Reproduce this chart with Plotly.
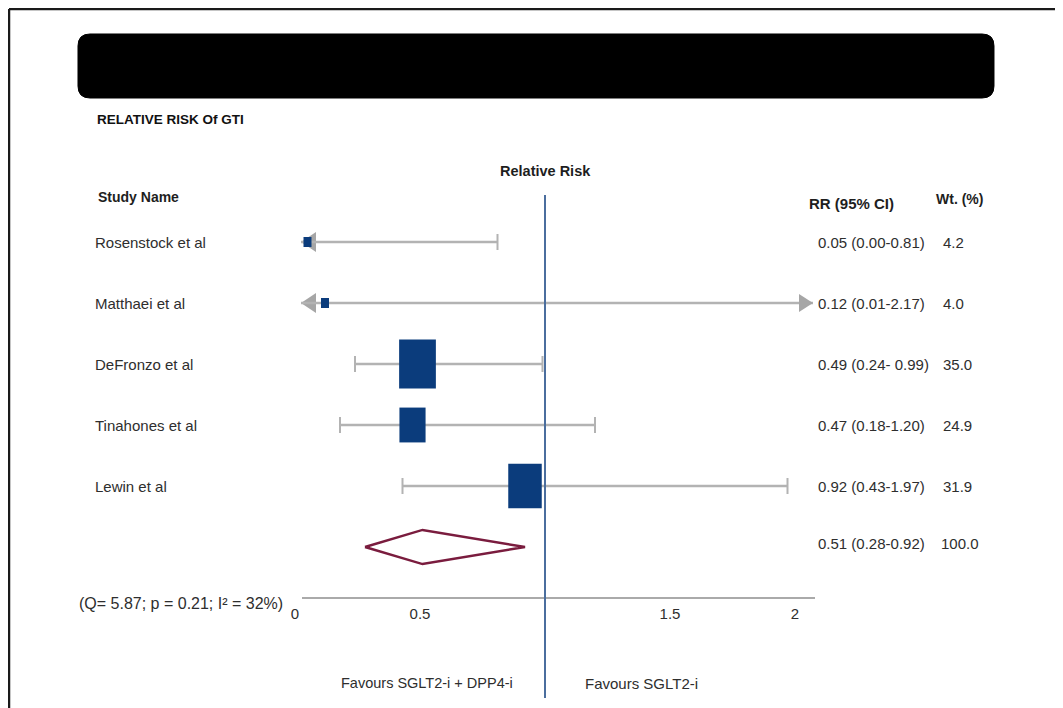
import plotly.graph_objects as go

# ---------------- data ----------------
studies = ["Rosenstock et al", "Matthaei et al", "DeFronzo et al", "Tinahones et al", "Lewin et al"]
rr = [0.05, 0.12, 0.49, 0.47, 0.92]
ci_low = [0.00, 0.01, 0.24, 0.18, 0.43]
ci_high = [0.81, 2.17, 0.99, 1.20, 1.97]
weights = [4.2, 4.0, 35.0, 24.9, 31.9]
rr_labels = ["0.05 (0.00-0.81)", "0.12 (0.01-2.17)", "0.49 (0.24- 0.99)", "0.47 (0.18-1.20)", "0.92 (0.43-1.97)"]
wt_labels = ["4.2", "4.0", "35.0", "24.9", "31.9"]
pooled_rr = 0.51
pooled_low = 0.28
pooled_high = 0.92
pooled_label = "0.51 (0.28-0.92)"
pooled_wt = "100.0"
tick_vals = [0, 0.5, 1.5, 2]
tick_text = ["0", "0.5", "1.5", "2"]
heterogeneity = "(Q= 5.87; p = 0.21; I² = 32%)"

# ---------------- layout constants ----------------
W, H = 1063, 708
OFF = 8                          # page body margin offset
X0PX, XSCALE = 295.0, 250.0      # screen pixel of value 0, pixels per unit
Y0PX, YSTEP = 242.0, 61.0        # screen pixel of first row, pixels per row
x_range = [(0 - (X0PX - OFF)) / XSCALE, (W - (X0PX - OFF)) / XSCALE]
y_range = [(H - (Y0PX - OFF)) / YSTEP, (0 - (Y0PX - OFF)) / YSTEP]
clip_lo, clip_hi = 0.024, 2.072   # visible CI window (arrows beyond)
axis_lo, axis_hi = 0.028, 2.08

FONT = "Liberation Sans, Arial, sans-serif"
TXT = "#2e2e2e"
NAVY = "#0b3c7c"
GRAY = "#b3b3b3"
BLUE = "#4b6e9e"
MAROON = "#7a1c3e"


def row_of(px):
    return (px - Y0PX) / YSTEP


def vx(px):
    return (px - X0PX) / XSCALE


def pxp(x):
    return (x - OFF) / W


def pyp(y):
    return 1 - (y - OFF) / H


fig = go.Figure()
shapes = []
annotations = []

rows = list(range(len(studies)))
pooled_row = len(studies)

# CI lines
for i in rows:
    lo = max(ci_low[i], clip_lo)
    hi = min(ci_high[i], clip_hi)
    fig.add_trace(go.Scatter(x=[lo, hi], y=[i, i], mode="lines",
                             line=dict(color=GRAY, width=2.5), hoverinfo="skip", showlegend=False))
    if ci_low[i] < clip_lo:
        shapes.append(dict(type="path", xref="x", yref="y", xsizemode="pixel", ysizemode="pixel",
                           xanchor=clip_lo, yanchor=i, path="M 0,0 L 15,10 L 15,-10 Z",
                           fillcolor="#a6a6a6", line=dict(width=0), layer="below"))
    else:
        shapes.append(dict(type="line", xref="x", yref="y", ysizemode="pixel", yanchor=i,
                           x0=ci_low[i], x1=ci_low[i], y0=-8, y1=8,
                           line=dict(color=GRAY, width=2)))
    if ci_high[i] > clip_hi:
        shapes.append(dict(type="path", xref="x", yref="y", xsizemode="pixel", ysizemode="pixel",
                           xanchor=clip_hi, yanchor=i, path="M 0,0 L -14,9 L -14,-9 Z",
                           fillcolor="#a6a6a6", line=dict(width=0)))
    else:
        shapes.append(dict(type="line", xref="x", yref="y", ysizemode="pixel", yanchor=i,
                           x0=ci_high[i], x1=ci_high[i], y0=-8, y1=8,
                           line=dict(color=GRAY, width=2)))

# x axis line
ax_row = row_of(598)
fig.add_trace(go.Scatter(x=[axis_lo, axis_hi], y=[ax_row, ax_row], mode="lines",
                         line=dict(color="#aaaaaa", width=2), hoverinfo="skip", showlegend=False))

# reference line at RR = 1
fig.add_trace(go.Scatter(x=[1, 1], y=[row_of(195), row_of(698)], mode="lines",
                         line=dict(color=BLUE, width=2), hoverinfo="skip", showlegend=False))

# study boxes (size by weight)
for i in rows:
    w = max(1.05 * weights[i], 8)
    h = max(1.4 * weights[i], 10)
    shapes.append(dict(type="rect", xref="x", yref="y", xsizemode="pixel", ysizemode="pixel",
                       xanchor=rr[i], yanchor=i, x0=-w / 2, x1=w / 2, y0=-h / 2, y1=h / 2,
                       fillcolor=NAVY, line=dict(width=0)))

# pooled diamond
dh = 0.28
fig.add_trace(go.Scatter(x=[pooled_low, pooled_rr, pooled_high, pooled_rr, pooled_low],
                         y=[pooled_row, pooled_row - dh, pooled_row, pooled_row + dh, pooled_row],
                         mode="lines", line=dict(color=MAROON, width=2.5),
                         hoverinfo="skip", showlegend=False))

# tick labels
fig.add_trace(go.Scatter(x=tick_vals, y=[row_of(615)] * len(tick_vals), mode="text",
                         text=tick_text, textfont=dict(family=FONT, size=15, color=TXT),
                         hoverinfo="skip", showlegend=False, cliponaxis=False))

# text columns
for i in rows:
    annotations.append(dict(x=vx(93), y=i, xref="x", yref="y", text=studies[i], showarrow=False,
                            xanchor="left", yanchor="middle", font=dict(family=FONT, size=15, color=TXT)))
    annotations.append(dict(x=vx(816), y=i, xref="x", yref="y", text=rr_labels[i], showarrow=False,
                            xanchor="left", yanchor="middle", font=dict(family=FONT, size=15, color=TXT)))
    annotations.append(dict(x=vx(941), y=i, xref="x", yref="y", text=wt_labels[i], showarrow=False,
                            xanchor="left", yanchor="middle", font=dict(family=FONT, size=15, color=TXT)))
annotations.append(dict(x=vx(816), y=pooled_row - 0.05, xref="x", yref="y", text=pooled_label, showarrow=False,
                        xanchor="left", yanchor="middle", font=dict(family=FONT, size=15, color=TXT)))
annotations.append(dict(x=vx(939), y=pooled_row - 0.05, xref="x", yref="y", text=pooled_wt, showarrow=False,
                        xanchor="left", yanchor="middle", font=dict(family=FONT, size=15, color=TXT)))

# headers
hdr = dict(family=FONT, size=14, color="#1e1e1e")
annotations += [
    dict(x=vx(96), y=row_of(197), xref="x", yref="y", text="<b>Study Name</b>", showarrow=False,
         xanchor="left", yanchor="middle", font=hdr),
    dict(x=1, y=row_of(171), xref="x", yref="y", text="<b>Relative Risk</b>", showarrow=False,
         xanchor="center", yanchor="middle", font=dict(family=FONT, size=14.5, color="#1e1e1e")),
    dict(x=vx(807), y=row_of(203), xref="x", yref="y", text="<b>RR (95% CI)</b>", showarrow=False,
         xanchor="left", yanchor="middle", font=dict(family=FONT, size=15, color="#1e1e1e")),
    dict(x=vx(934), y=row_of(199), xref="x", yref="y", text="<b>Wt. (%)</b>", showarrow=False,
         xanchor="left", yanchor="middle", font=hdr),
    dict(x=vx(77), y=row_of(603), xref="x", yref="y", text=heterogeneity, showarrow=False,
         xanchor="left", yanchor="middle", font=dict(family=FONT, size=16, color=TXT)),
    dict(x=1, y=row_of(683), xref="x", yref="y", text="Favours SGLT2-i + DPP4-i", showarrow=False,
         xanchor="right", xshift=-30, yanchor="middle", font=dict(family=FONT, size=14.5, color=TXT)),
    dict(x=1, y=row_of(683), xref="x", yref="y", text="Favours SGLT2-i", showarrow=False,
         xanchor="left", xshift=38, yanchor="middle", font=dict(family=FONT, size=15, color=TXT)),
    dict(x=pxp(95), y=pyp(119), xref="paper", yref="paper", text="<b>RELATIVE RISK Of GTI</b>", showarrow=False,
         xanchor="left", yanchor="middle", font=dict(family=FONT, size=13.5, color="#111111")),
]

# frame
shapes.append(dict(type="line", xref="paper", yref="paper", x0=pxp(9), x1=1.0, y0=pyp(9), y1=pyp(9),
                   line=dict(color="#1a1a1a", width=2.5)))
shapes.append(dict(type="line", xref="paper", yref="paper", x0=pxp(9), x1=pxp(9), y0=pyp(9), y1=0,
                   line=dict(color="#1a1a1a", width=2.5)))

# black title bar (rounded rectangle)
bx0, bx1, by0, by1, r = 78, 994, 34, 98, 12
pts = [
    ("M", [(bx0 + r, by0)]),
    ("L", [(bx1 - r, by0)]),
    ("Q", [(bx1, by0), (bx1, by0 + r)]),
    ("L", [(bx1, by1 - r)]),
    ("Q", [(bx1, by1), (bx1 - r, by1)]),
    ("L", [(bx0 + r, by1)]),
    ("Q", [(bx0, by1), (bx0, by1 - r)]),
    ("L", [(bx0, by0 + r)]),
    ("Q", [(bx0, by0), (bx0 + r, by0)]),
]
path = " ".join(cmd + " " + " ".join(f"{pxp(a):.5f},{pyp(b):.5f}" for a, b in p) for cmd, p in pts) + " Z"
shapes.append(dict(type="path", xref="paper", yref="paper", path=path, fillcolor="#000000",
                   line=dict(color="#000000", width=1)))

fig.update_layout(
    width=W, height=H,
    margin=dict(l=0, r=0, t=0, b=0),
    paper_bgcolor="white", plot_bgcolor="white",
    xaxis=dict(range=x_range, visible=False, fixedrange=True),
    yaxis=dict(range=y_range, visible=False, fixedrange=True),
    shapes=shapes, annotations=annotations,
    showlegend=False,
)

fig.write_html("out.html")
